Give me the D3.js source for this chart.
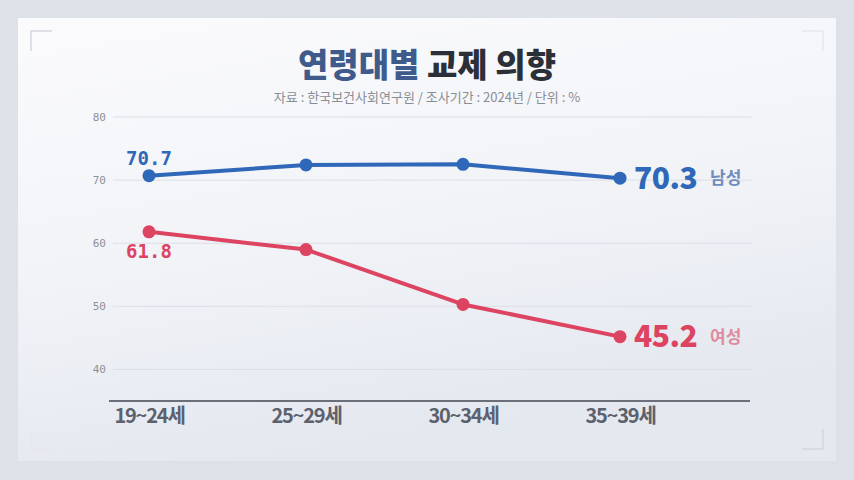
<!DOCTYPE html>
<html>
<head>
<meta charset="utf-8">
<script src="https://cdn.jsdelivr.net/npm/d3@7/dist/d3.min.js"></script>
<style>
  html, body { margin: 0; padding: 0; background: #dfe3ea; }
  svg { display: block; }
</style>
</head>
<body>
<div id="chart"></div>
<script>
// 데이터
const ageGroups = ["19~24세", "25~29세", "30~34세", "35~39세"];
const maleValues = [70.7, 72.4, 72.5, 70.3];
const femaleValues = [61.8, 59.0, 50.3, 45.2];
const yTicks = [40, 50, 60, 70, 80];

const W = 854, H = 480;
const font = "'Noto Sans CJK KR', 'Noto Sans', sans-serif";

const svg = d3.select("#chart").append("svg")
  .attr("width", W)
  .attr("height", H)
  .style("font-family", font);

// 배경 그라데이션
const defs = svg.append("defs");
const bg = defs.append("linearGradient").attr("id", "bg")
  .attr("x1", 0).attr("y1", 0).attr("x2", 0.3).attr("y2", 1);
bg.append("stop").attr("offset", "0%").attr("stop-color", "#fbfbfd");
bg.append("stop").attr("offset", "55%").attr("stop-color", "#f1f3f7");
bg.append("stop").attr("offset", "100%").attr("stop-color", "#e4e8ef");

svg.append("rect").attr("width", W).attr("height", H).attr("fill", "#dde2e9");
svg.append("rect")
  .attr("x", 18).attr("y", 18).attr("width", 818).attr("height", 443)
  .attr("fill", "url(#bg)");

// 모서리 장식
const corner = svg.append("g").attr("stroke", "#d3d7de").attr("stroke-width", 1.5).attr("fill", "none");
corner.append("path").attr("d", "M31,51 V31 H52");
corner.append("path").attr("d", "M823,429 V449 H802");
corner.append("path").attr("d", "M802,31 H823 V51").attr("stroke", "#e6e8ec");
corner.append("path").attr("d", "M31,429 V449 H52").attr("stroke", "#e6e8ec");

// 제목
const title = svg.append("text")
  .attr("x", W / 2).attr("y", 77)
  .attr("text-anchor", "middle")
  .style("font-size", "33px")
  .style("font-weight", 900);
title.append("tspan").attr("fill", "#3f5b8c").text("연령대별");
title.append("tspan").attr("fill", "#2b2f38").text(" 교제 의향");

svg.append("text")
  .attr("x", W / 2).attr("y", 102)
  .attr("text-anchor", "middle")
  .style("font-size", "13px")
  .attr("fill", "#8a8d94")
  .text("자료 : 한국보건사회연구원 / 조사기간 : 2024년 / 단위 : %");

// 스케일
const x = d3.scalePoint()
  .domain(ageGroups)
  .range([149, 620]);

const y = d3.scaleLinear()
  .domain([35, 80])
  .range([401, 117]);

// 격자선
svg.append("g")
  .selectAll("line")
  .data(yTicks)
  .join("line")
  .attr("x1", 113).attr("x2", 752)
  .attr("y1", d => y(d)).attr("y2", d => y(d))
  .attr("stroke", "#dcdfe5")
  .attr("stroke-width", 1);

// y축 라벨
svg.append("g")
  .selectAll("text")
  .data(yTicks)
  .join("text")
  .attr("x", 106)
  .attr("y", d => y(d))
  .attr("dy", "0.35em")
  .attr("text-anchor", "end")
  .attr("fill", "#8d9096")
  .style("font-family", "'DejaVu Sans Mono', monospace")
  .style("font-size", "11px")
  .text(d => d);

// x축
const xAxis = svg.append("g")
  .attr("transform", `translate(0,${y(35)})`)
  .call(d3.axisBottom(x).tickSize(0).tickPadding(8));
xAxis.select(".domain")
  .attr("d", "M109,0 H750")
  .attr("stroke", "#6b6f7a")
  .attr("stroke-width", 2);
xAxis.selectAll("text")
  .attr("fill", "#5c616d")
  .style("font-family", font)
  .style("font-size", "20px")
  .style("font-weight", 700)
  .style("letter-spacing", "-1.2px");

// 선
const series = [
  { key: "남성", values: maleValues, color: "#2f68b9", labelColor: "#6e8cbd" },
  { key: "여성", values: femaleValues, color: "#dc4462", labelColor: "#df8a9c" }
];

const line = d3.line()
  .x((d, i) => x(ageGroups[i]))
  .y(d => y(d));

series.forEach((s, si) => {
  svg.append("path")
    .datum(s.values)
    .attr("fill", "none")
    .attr("stroke", s.color)
    .attr("stroke-width", 4)
    .attr("stroke-linejoin", "round")
    .attr("d", line);

  svg.selectAll(`.dot-${si}`)
    .data(s.values)
    .join("circle")
    .attr("class", `dot-${si}`)
    .attr("cx", (d, i) => x(ageGroups[i]))
    .attr("cy", d => y(d))
    .attr("r", 6.5)
    .attr("fill", s.color);

  // 첫 값 라벨
  const first = s.values[0];
  svg.append("text")
    .attr("x", x(ageGroups[0]))
    .attr("y", y(first) + (si === 0 ? -11 : 26))
    .attr("text-anchor", "middle")
    .attr("fill", s.color)
    .style("font-family", "'DejaVu Sans Mono', monospace")
    .style("font-size", "19px")
    .style("font-weight", 700)
    .text(first.toFixed(1));

  // 마지막 값 라벨
  const last = s.values[s.values.length - 1];
  const lx = x(ageGroups[ageGroups.length - 1]);
  svg.append("text")
    .attr("x", lx + 14)
    .attr("y", y(last))
    .attr("dy", "0.36em")
    .attr("fill", s.color)
    .style("font-size", "30px")
    .style("font-weight", 900)
    .style("letter-spacing", "-0.5px")
    .text(last.toFixed(1));

  svg.append("text")
    .attr("x", lx + 90)
    .attr("y", y(last))
    .attr("dy", "0.36em")
    .attr("fill", s.labelColor)
    .style("font-size", "17px")
    .style("font-weight", 700)
    .text(s.key);
});
</script>
</body>
</html>
